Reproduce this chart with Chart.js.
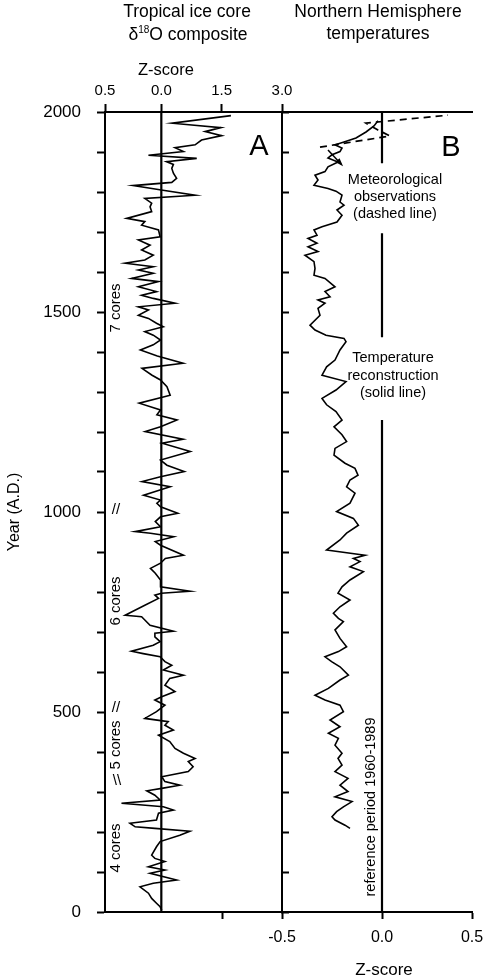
<!DOCTYPE html>
<html>
<head>
<meta charset="utf-8">
<script src="https://cdn.jsdelivr.net/npm/chart.js@4.4.1/dist/chart.umd.min.js"></script>
<style>
  html, body { margin: 0; padding: 0; background: #fff; }
  #wrap { position: relative; width: 484px; height: 979px; }
  canvas { display: block; }
</style>
</head>
<body>
<div id="wrap"><canvas id="c" width="484" height="979"></canvas></div>
<script>
// ---------- DATA ----------
// Panel A: tropical ice core d18O composite (Z-score) by year A.D.
const yearsA = [1991,1972,1961,1951,1941,1930,1918,1911,1901,1892,1884,1876,1869,1859,1847,1834,1824,1816,1805,1792,
  1784,1772,1763,1751,1734,1726,1717,1705,1688,1680,1667,1655,1642,1630,1622,1613,1605,1597,1584,1576,
  1563,1551,1542,1534,1522,1513,1505,1492,1484,1472,1463,1451,1442,1430,1418,1405,1390,1372,1359,1342,
  1330,1313,1292,1272,1255,1243,1230,1213,1201,1182,1172,1151,1130,1117,1101,1088,1076,1063,1042,1030,
  1022,1013,997,988,976,963,951,947,938,926,917,892,884,872,859,847,830,813,802,797,
  792,784,767,742,738,730,717,702,697,688,676,667,652,646,638,626,617,605,592,584,
  567,551,538,530,517,501,484,476,467,455,442,426,409,397,384,376,363,351,338,326,
  317,309,303,292,280,272,263,255,247,230,222,213,209,202,192,176,163,142,134,126,
  113,105,97,80,72,63,47,34,22,13,5];
const zA = [1.73,0.27,1.48,1.09,1.50,1.00,0.84,0.34,0.55,-0.32,0.88,0.13,0.30,0.26,0.30,0.38,0.26,-0.70,0.00,0.84,
  -0.41,-0.24,-0.28,-0.24,-0.86,-0.41,-0.49,-0.07,-0.03,-0.57,-0.28,-0.49,-0.20,-0.41,-0.90,-0.20,-0.57,-0.20,-0.74,-0.07,
  -0.57,-0.12,-0.49,-0.20,0.34,-0.57,-0.32,-0.57,-0.32,-0.12,0.05,-0.41,-0.20,-0.02,-0.20,-0.52,-0.10,0.54,-0.48,-0.23,
  -0.02,0.14,0.22,-0.55,-0.02,-0.11,0.39,-0.02,-0.40,0.54,0.02,0.72,-0.02,0.14,0.57,-0.02,-0.48,0.22,-0.44,-0.02,
  -0.11,-0.02,0.41,-0.02,-0.15,-0.02,-0.65,-0.27,0.31,-0.15,-0.02,0.55,0.10,-0.02,-0.27,-0.15,-0.02,-0.02,0.71,0.00,
  -0.16,-0.07,-0.41,-0.90,-0.49,-0.41,-0.28,0.30,-0.16,-0.16,-0.03,-0.20,-0.74,-0.45,-0.03,0.09,0.26,0.05,0.55,0.21,
  0.09,0.34,0.01,-0.16,0.09,-0.12,-0.41,0.17,0.09,0.30,-0.07,0.21,0.34,0.55,0.84,0.67,0.79,0.67,0.01,0.09,
  0.46,0.01,-0.36,-0.16,-0.03,-0.99,0.05,0.30,-0.07,-0.12,-0.78,-0.65,-0.16,0.71,0.46,-0.03,-0.12,-0.24,-0.16,0.09,
  -0.32,0.09,-0.28,0.38,-0.20,-0.53,-0.32,-0.24,-0.12,-0.03,0.01];

// Panel B: Northern Hemisphere temperature reconstruction (Z-score)
const yearsB = [1978,1965,1950,1935,1925,1918,1910,1901,1893,1885,1875,1863,1851,1842,1830,1817,1809,1802,1792,1775,
  1767,1755,1742,1725,1713,1705,1692,1684,1672,1663,1651,1642,1626,1609,1592,1584,1563,1551,1538,1530,
  1522,1509,1492,1467,1455,1442,1434,1426,1405,1380,1363,1342,1326,1305,1284,1268,1251,1230,1213,1193,
  1176,1159,1142,1122,1109,1092,1080,1063,1047,1022,1001,984,967,947,930,905,892,884,876,863,
  851,830,813,797,780,763,747,734,726,705,684,663,651,638,626,613,592,580,559,542,
  530,517,501,480,463,447,434,417,397,384,367,351,334,317,301,288,276,263,251,238,
  230,217,209];
const zB = [-0.02,-0.04,-0.08,-0.13,-0.19,-0.235,-0.20,-0.21,-0.25,-0.27,-0.22,-0.27,-0.285,-0.335,-0.32,-0.34,-0.27,-0.23,-0.20,-0.21,
  -0.19,-0.225,-0.20,-0.225,-0.30,-0.34,-0.325,-0.37,-0.325,-0.37,-0.32,-0.385,-0.34,-0.335,-0.34,-0.285,-0.235,-0.285,-0.26,-0.32,
  -0.285,-0.32,-0.31,-0.36,-0.335,-0.28,-0.19,-0.18,-0.21,-0.235,-0.277,-0.30,-0.18,-0.23,-0.30,-0.277,-0.23,-0.20,-0.24,-0.20,
  -0.177,-0.235,-0.24,-0.185,-0.135,-0.12,-0.16,-0.177,-0.135,-0.16,-0.227,-0.143,-0.118,-0.177,-0.21,-0.277,-0.085,-0.143,-0.11,-0.16,
  -0.093,-0.16,-0.20,-0.22,-0.16,-0.21,-0.243,-0.218,-0.193,-0.235,-0.21,-0.177,-0.218,-0.285,-0.252,-0.21,-0.168,-0.21,-0.268,-0.335,
  -0.285,-0.21,-0.193,-0.26,-0.21,-0.268,-0.218,-0.235,-0.20,-0.22,-0.20,-0.235,-0.17,-0.21,-0.17,-0.235,-0.15,-0.193,-0.227,-0.25,
  -0.235,-0.185,-0.16];

// Meteorological observations (dashed line)
const yearsObs = [1912,1925,1940,1955,1972,1980,1992];
const zObs = [-0.31,-0.15,0.04,-0.02,-0.08,0.08,0.33];

// Reference (zero) line of panel B, drawn in pieces around the labels (null = gap)
const refLineYears = [0,1230,null,1437,1697,null,1872,2000];

// Tick values / labels
const yearTicks = [0,100,200,300,400,500,600,700,800,900,1000,1100,1200,1300,1400,1500,1600,1700,1800,1900,2000];
const yearLabelEvery = 500;
const topTickValues = [-1.4, 0.0, 1.5, 3.0];
const topTickLabels = ['0.5', '0.0', '1.5', '3.0'];
const bottomTickValues = [-0.8, -0.5, 0.0, 0.45];
const bottomTickLabels = ['', '-0.5', '0.0', '0.5'];

// ---------- LAYOUT ----------
const W = 484, H = 979;
const plotLeft = 105, plotRight = 472, plotTop = 112, plotBottom = 912;
const dividerX = 282;         // pixel where panel A ends / panel B starts
const bZeroX = 382;           // pixel of Z=0 in panel B
const pxPerA = (dividerX - plotLeft) / (topTickValues[3] - topTickValues[0]);
const xAmin = topTickValues[0];
const xAmax = topTickValues[0] + (plotRight - plotLeft) / pxPerA;
const pxPerUnitB = (bZeroX - dividerX) / 0.5;
const xBmin = -0.5 - (dividerX - plotLeft) / pxPerUnitB;
const xBmax = -0.5 + (plotRight - dividerX) / pxPerUnitB;

const FONT = "'Liberation Sans', Arial, Helvetica, sans-serif";

const pts = (ys, xs) => ys.map((y, i) => ({ x: xs[i], y: y }));

const lineDs = (data, xAxisID, opts) => Object.assign({
  data, xAxisID, yAxisID: 'y', showLine: true, pointRadius: 0, borderColor: '#000',
  borderWidth: 1.6, fill: false, tension: 0, spanGaps: false
}, opts || {});

const datasets = [
  lineDs(pts(yearsA, zA), 'xA'),
  lineDs([{ x: 0, y: 0 }, { x: 0, y: 2000 }], 'xA', { borderWidth: 2.2 }),
  lineDs(pts(yearsB, zB), 'xB'),
  lineDs(pts(yearsObs, zObs), 'xB', { borderWidth: 1.7, borderDash: [7, 5] }),
  lineDs(refLineYears.map(y => ({ x: 0, y: y })), 'xB', { borderWidth: 2.2 })
];

// ---------- TEXT / ANNOTATION PLUGIN ----------
function text(ctx, s, x, y, size, opts) {
  opts = opts || {};
  ctx.save();
  ctx.fillStyle = '#000';
  ctx.font = (opts.weight || 'normal') + ' ' + size + 'px ' + FONT;
  ctx.textAlign = opts.align || 'center';
  ctx.textBaseline = opts.baseline || 'alphabetic';
  ctx.translate(x, y);
  if (opts.rot) ctx.rotate(opts.rot);
  ctx.fillText(s, 0, 0);
  ctx.restore();
}

const annotations = {
  id: 'annotations',
  afterDraw(chart) {
    const ctx = chart.ctx;
    const sB = chart.scales.xB, sY = chart.scales.y;
    // titles
    text(ctx, 'Tropical ice core', 187, 17, 17.5);
    ctx.save();
    ctx.font = '17.5px ' + FONT; const wD = ctx.measureText('\u03B4').width; const wO = ctx.measureText('O composite').width;
    ctx.font = '10px ' + FONT; const w18 = ctx.measureText('18').width;
    ctx.restore();
    const x0 = 188 - (wD + w18 + wO) / 2;
    text(ctx, '\u03B4', x0, 40, 17.5, { align: 'left' });
    text(ctx, '18', x0 + wD, 33, 10, { align: 'left' });
    text(ctx, 'O composite', x0 + wD + w18, 40, 17.5, { align: 'left' });
    text(ctx, 'Northern Hemisphere', 378, 17, 17.5);
    text(ctx, 'temperatures', 378, 39, 17.5);
    text(ctx, 'Z-score', 166, 75, 16.5);
    text(ctx, 'Z-score', 384, 975, 17);
    // panel letters
    text(ctx, 'A', 259, 147, 29, { baseline: 'middle' });
    text(ctx, 'B', 451, 148, 29, { baseline: 'middle' });
    // B annotations
    ['Meteorological', 'observations', '(dashed line)'].forEach((s, i) => text(ctx, s, 395, 180 + i * 17, 14.5, { baseline: 'middle' }));
    ['Temperature', 'reconstruction', '(solid line)'].forEach((s, i) => text(ctx, s, 393, 358 + i * 17.5, 14.5, { baseline: 'middle' }));
    text(ctx, 'reference period 1960-1989', 371, 807, 14.5, { baseline: 'middle', rot: -Math.PI / 2 });
    // core counts and break marks
    const R = -Math.PI / 2;
    text(ctx, '7 cores', 116, 308, 15, { baseline: 'middle', rot: R });
    text(ctx, '6 cores', 116, 601, 15, { baseline: 'middle', rot: R });
    text(ctx, '5 cores', 116, 745, 15, { baseline: 'middle', rot: R });
    text(ctx, '4 cores', 116, 848, 15, { baseline: 'middle', rot: R });
    text(ctx, '//', 116, 510, 15, { baseline: 'middle' });
    text(ctx, '//', 116, 708, 15, { baseline: 'middle' });
    text(ctx, '\\\\', 117, 781, 15, { baseline: 'middle' });
    // arrow pointing at the dashed line label
    const ax1 = sB.getPixelForValue(-0.27), ay1 = sY.getPixelForValue(1905);
    const ax2 = sB.getPixelForValue(-0.205), ay2 = sY.getPixelForValue(1870);
    ctx.save();
    ctx.strokeStyle = '#000'; ctx.fillStyle = '#000'; ctx.lineWidth = 1.5;
    ctx.beginPath(); ctx.moveTo(ax1, ay1); ctx.lineTo(ax2, ay2); ctx.stroke();
    const ang = Math.atan2(ay2 - ay1, ax2 - ax1);
    ctx.beginPath();
    ctx.moveTo(ax2 + 3 * Math.cos(ang), ay2 + 3 * Math.sin(ang));
    ctx.lineTo(ax2 - 6 * Math.cos(ang - 0.5), ay2 - 6 * Math.sin(ang - 0.5));
    ctx.lineTo(ax2 - 6 * Math.cos(ang + 0.5), ay2 - 6 * Math.sin(ang + 0.5));
    ctx.closePath(); ctx.fill();
    ctx.restore();
  }
};

const noHPad = s => { s.paddingLeft = 0; s.paddingRight = 0; };
const noVPad = s => { s.paddingTop = 0; s.paddingBottom = 0; };

// ---------- CHART ----------
new Chart(document.getElementById('c'), {
  type: 'scatter',
  data: { datasets },
  plugins: [annotations],
  options: {
    responsive: false,
    animation: false,
    devicePixelRatio: 1,
    layout: { padding: { left: 0, top: 0, right: W - plotRight, bottom: 0 } },
    plugins: { legend: { display: false }, tooltip: { enabled: false } },
    scales: {
      xA: {
        type: 'linear', position: 'top', min: xAmin, max: xAmax,
        afterBuildTicks: s => { s.ticks = topTickValues.map(v => ({ value: v })); },
        afterFit: s => { s.height = plotTop; noHPad(s); },
        ticks: { autoSkip: false, maxRotation: 0, minRotation: 0, padding: 4, color: '#000', font: { family: FONT, size: 15 },
                 callback: (v, i) => topTickLabels[i] },
        grid: { drawOnChartArea: false, drawTicks: true, tickLength: 8, tickWidth: 2, color: '#000' },
        border: { display: true, color: '#000', width: 2 }
      },
      xB: {
        type: 'linear', position: 'bottom', min: xBmin, max: xBmax,
        afterBuildTicks: s => { s.ticks = bottomTickValues.map(v => ({ value: v })); },
        afterFit: s => { s.height = H - plotBottom; noHPad(s); },
        ticks: { autoSkip: false, maxRotation: 0, minRotation: 0, padding: 9, color: '#000', font: { family: FONT, size: 16 },
                 callback: (v, i) => bottomTickLabels[i] },
        grid: { drawOnChartArea: false, drawTicks: true, tickLength: 7, tickWidth: 2, color: '#000' },
        border: { display: true, color: '#000', width: 2 }
      },
      y: {
        type: 'linear', position: 'left', min: 0, max: 2000,
        afterBuildTicks: s => { s.ticks = yearTicks.map(v => ({ value: v })); },
        afterFit: s => { s.width = plotLeft; noVPad(s); },
        ticks: { autoSkip: false, padding: 16, color: '#000', font: { family: FONT, size: 17 },
                 callback: v => (v % yearLabelEvery === 0 ? String(v) : '') },
        grid: { drawOnChartArea: false, drawTicks: true, tickLength: 8, tickWidth: 2, color: '#000' },
        border: { display: true, color: '#000', width: 2 },
        title: { display: true, text: 'Year (A.D.)', color: '#000', font: { family: FONT, size: 16 }, padding: { top: 5, bottom: 0 } }
      },
      y2: {
        type: 'linear', position: { xA: topTickValues[3] }, min: 0, max: 2000,
        afterBuildTicks: s => { s.ticks = yearTicks.map(v => ({ value: v })); },
        afterFit: s => { s.width = 0; noVPad(s); },
        ticks: { display: false },
        grid: { drawOnChartArea: false, drawTicks: true, tickLength: -8, tickWidth: 2, color: '#000' },
        border: { display: true, color: '#000', width: 2 }
      }
    }
  }
});
</script>
</body>
</html>
